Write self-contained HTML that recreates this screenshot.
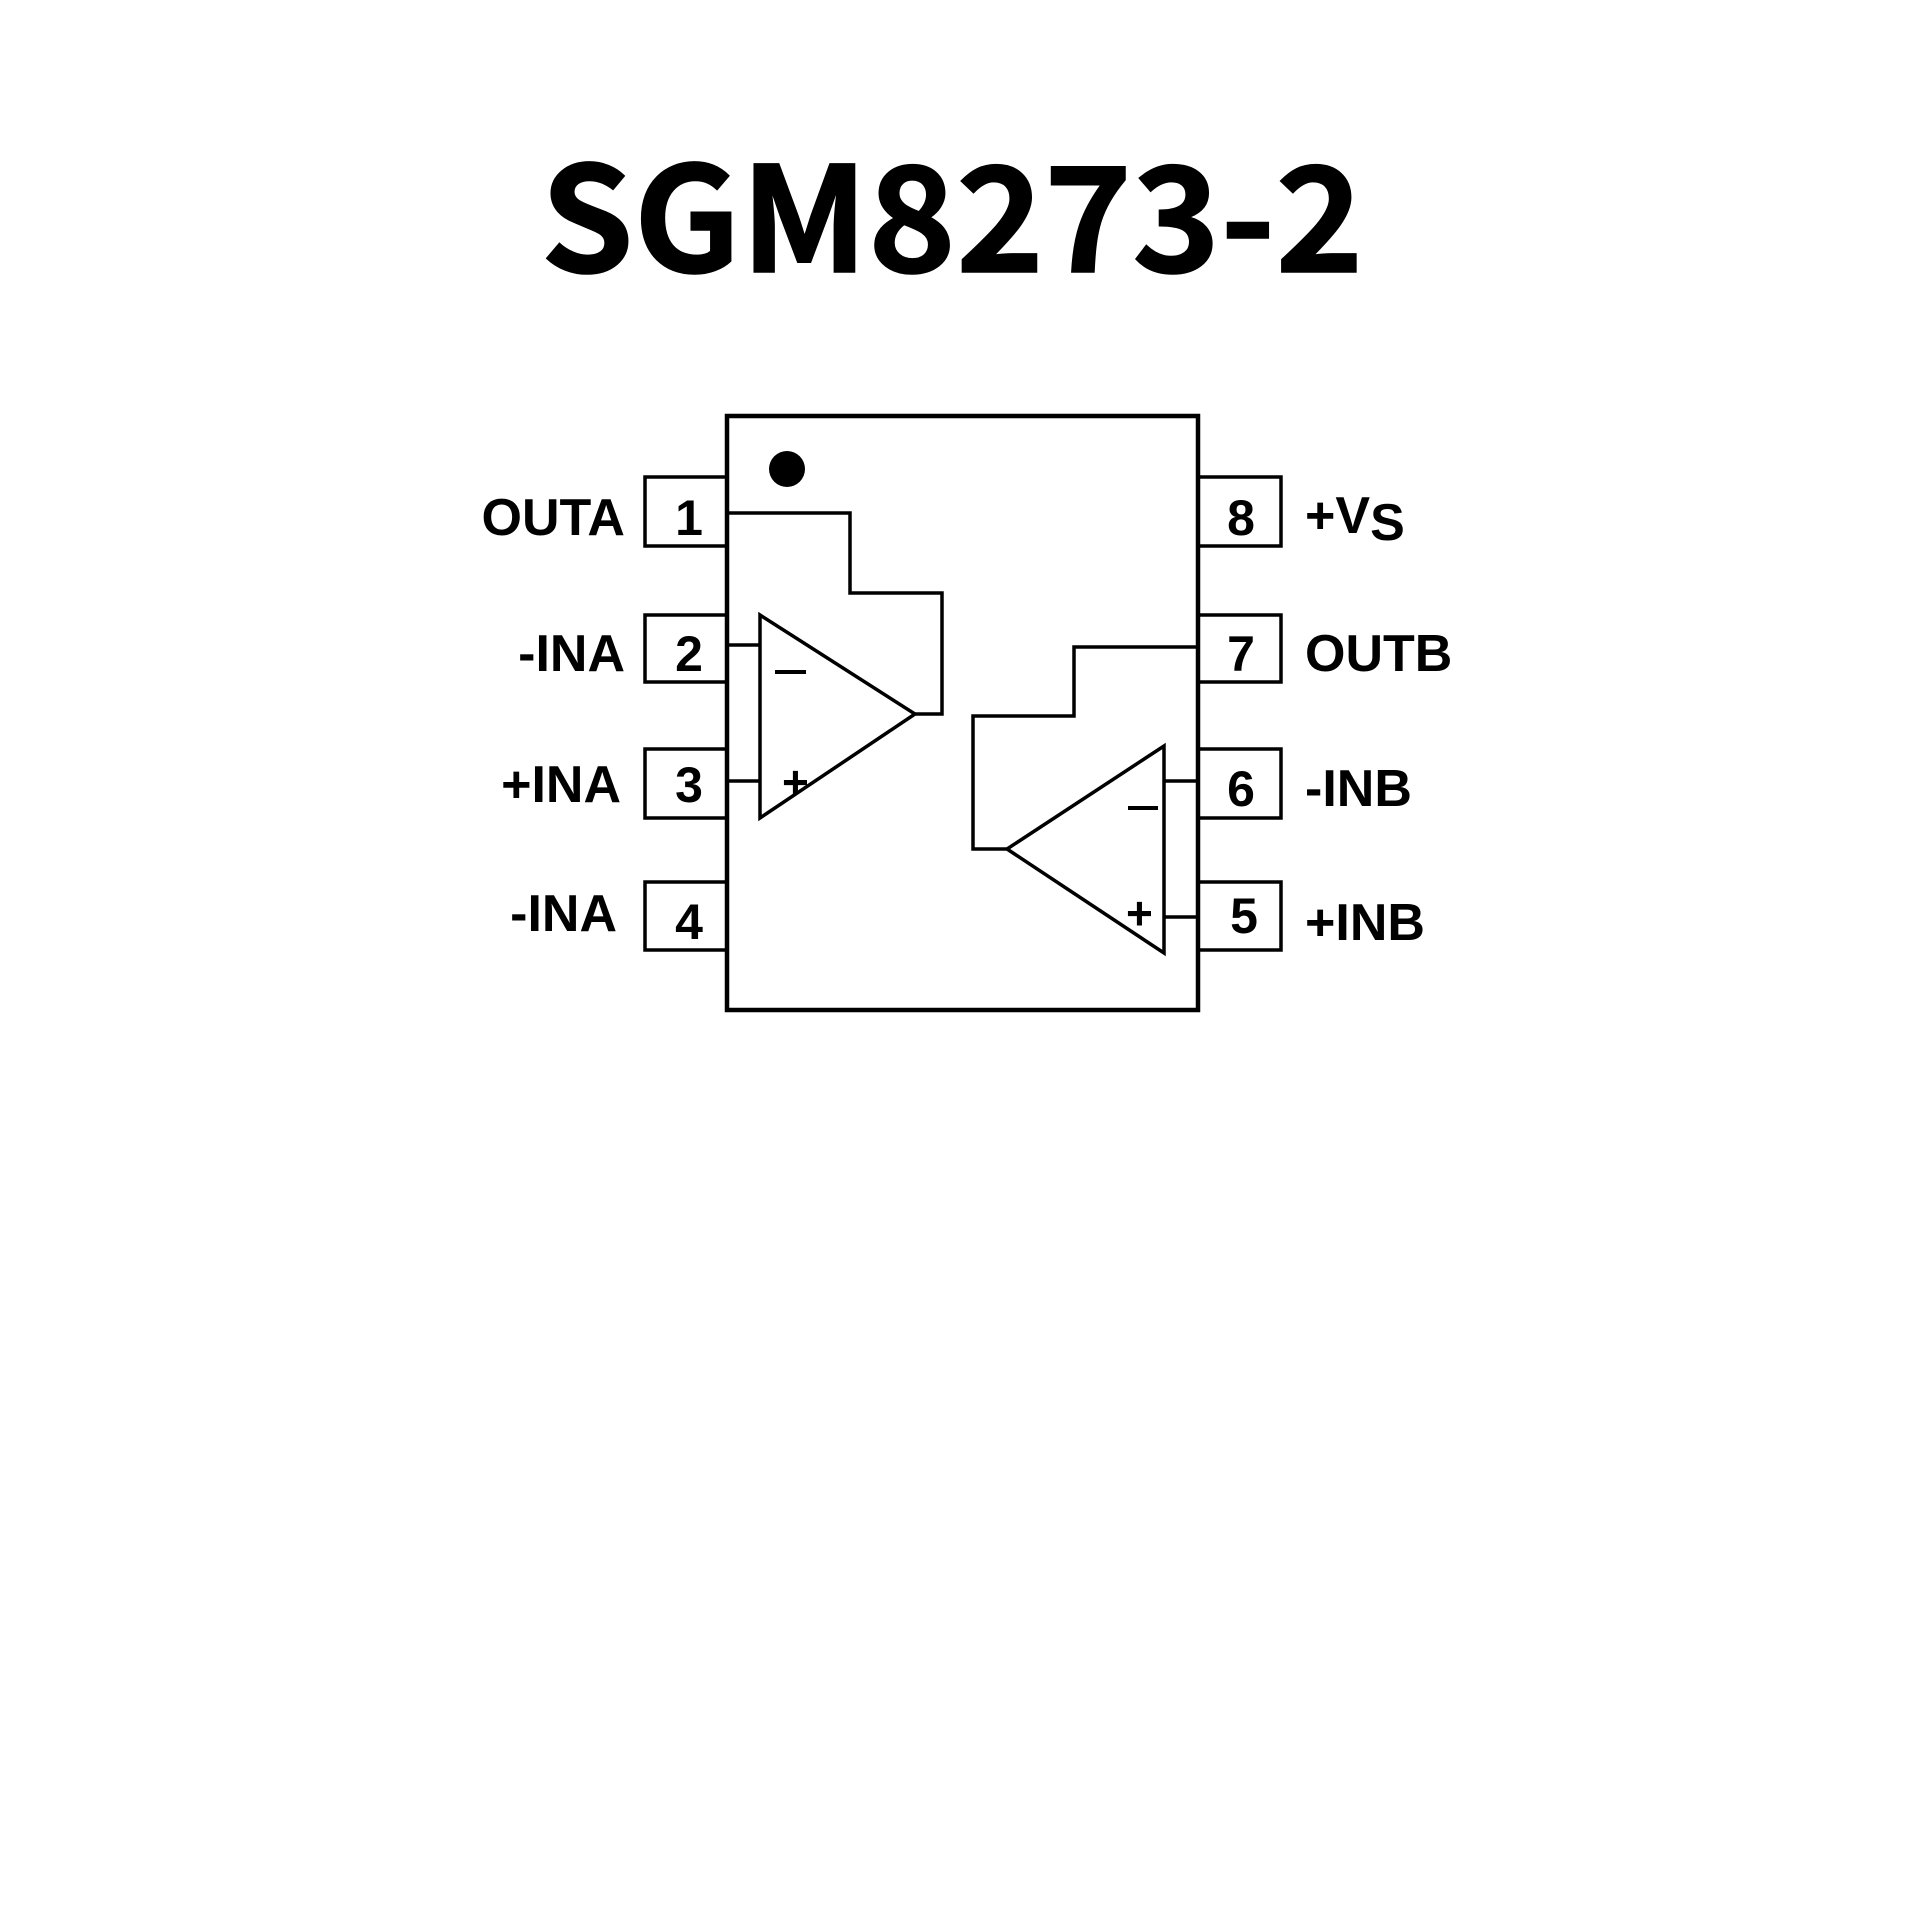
<!DOCTYPE html>
<html><head><style>html,body{margin:0;padding:0;background:#fff;}svg{display:block;}</style></head>
<body>
<svg width="1920" height="1920" viewBox="0 0 1920 1920" xmlns="http://www.w3.org/2000/svg">
<rect width="1920" height="1920" fill="#fff"/>
<text x="952" y="272" font-family="'Noto Sans CJK SC', 'Liberation Sans', sans-serif" font-weight="bold" font-size="146" text-anchor="middle" textLength="823" lengthAdjust="spacingAndGlyphs" stroke="#000" stroke-width="1.5">SGM8273-2</text>
<g fill="none" stroke="#000">
<rect x="727" y="416" width="471" height="594" stroke-width="4.5"/>
<g stroke-width="3.5">
<rect x="645" y="477" width="82" height="69"/>
<rect x="645" y="615" width="82" height="67"/>
<rect x="645" y="749" width="82" height="69"/>
<rect x="645" y="882" width="82" height="68"/>
<rect x="1198" y="477" width="83" height="69"/>
<rect x="1198" y="615" width="83" height="67"/>
<rect x="1198" y="749" width="83" height="69"/>
<rect x="1198" y="882" width="83" height="68"/>
<polyline points="729,513 850,513 850,593 942,593 942,714 915,714"/>
<polygon points="760,615 760,818 915,714"/>
<line x1="729" y1="645" x2="760" y2="645"/>
<line x1="729" y1="781" x2="760" y2="781"/>
<polygon points="1164,746 1164,953 1007,849"/>
<polyline points="1007,849 973,849 973,716 1074,716 1074,647 1196,647"/>
<line x1="1164" y1="781" x2="1196" y2="781"/>
<line x1="1164" y1="917" x2="1196" y2="917"/>
</g>
<line x1="775" y1="672" x2="806" y2="672" stroke-width="4"/>
<line x1="1128" y1="808" x2="1158" y2="808" stroke-width="4"/>
</g>
<circle cx="787" cy="469" r="18" fill="#000"/>
<g font-family="'Liberation Sans', sans-serif" font-weight="bold" font-size="48" fill="#000">
<text x="782" y="798" font-size="46">+</text>
<text x="1126" y="929" font-size="46">+</text>
<g text-anchor="middle" font-size="50">
<text x="689" y="535">1</text>
<text x="689" y="671">2</text>
<text x="689" y="802">3</text>
<text x="689" y="939">4</text>
<text x="1241" y="535">8</text>
<text x="1241" y="671">7</text>
<text x="1241" y="806">6</text>
<text x="1244" y="933">5</text>
</g>
<g text-anchor="end" font-size="52">
<text x="625" y="535">OUTA</text>
<text x="625" y="671">-INA</text>
<text x="621" y="802">+INA</text>
<text x="617" y="931">-INA</text>
</g>
<g font-size="52">
<text x="1305" y="533">+V<tspan dy="7">S</tspan></text>
<text x="1305" y="671">OUTB</text>
<text x="1305" y="806">-INB</text>
<text x="1305" y="940">+INB</text>
</g>
</g>
</svg>
</body></html>
